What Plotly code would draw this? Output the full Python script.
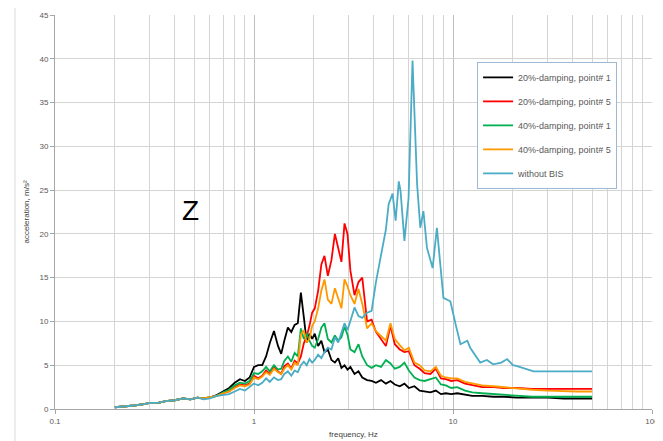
import plotly.graph_objects as go

# ---------------- data ----------------
f_black = [0.2,0.22,0.25,0.28,0.3,0.33,0.36,0.4,0.44,0.48,0.52,0.56,0.6,0.65,0.7,0.75,0.8,0.85,0.9,0.95,1.0,1.05,1.1,1.15,1.2,1.26,1.32,1.37,1.42,1.48,1.54,1.6,1.66,1.72,1.78,1.84,1.9,1.96,2.02,2.1,2.18,2.26,2.35,2.45,2.55,2.65,2.75,2.85,2.95,3.05,3.2,3.35,3.5,3.7,3.9,4.1,4.35,4.6,4.85,5.1,5.4,5.7,6.0,6.4,6.8,7.2,7.7,8.2,8.7,9.2,9.8,10.5,11.5,12.5,14,16,18,21,25,30,36,42,50]
black_20_p1 = [0.2,0.25,0.4,0.55,0.7,0.7,0.9,1.0,1.2,1.1,1.3,1.2,1.3,1.6,2.0,2.4,3.0,3.4,3.2,3.6,4.8,5.0,5.0,6.0,7.5,8.9,7.2,6.3,7.8,9.3,8.8,9.6,9.8,13.3,10.5,7.6,8.6,8.0,8.6,7.2,7.8,6.5,6.8,5.6,5.3,5.8,4.7,5.0,4.5,4.8,4.0,4.3,3.6,3.3,3.2,3.0,3.3,2.9,3.2,2.8,2.6,2.9,2.4,2.6,2.1,2.0,1.9,2.1,1.7,1.8,1.7,1.8,1.6,1.5,1.5,1.4,1.4,1.3,1.3,1.3,1.2,1.2,1.2]

f_common = f_black
red_20_p5 = [0.2,0.25,0.4,0.55,0.7,0.7,0.9,1.0,1.2,1.1,1.3,1.2,1.3,1.5,1.8,2.0,2.5,2.8,2.7,2.9,3.8,3.5,3.8,4.4,4.0,4.8,4.3,4.0,4.9,5.2,4.6,5.5,5.2,6.0,7.5,8.3,9.5,11.0,11.5,13.5,16.5,17.5,15.2,17.0,20.0,18.5,16.8,21.2,20.0,15.8,13.0,14.5,15.0,10.0,10.2,8.8,8.0,7.2,9.5,7.4,6.8,6.5,6.6,5.0,4.6,4.1,4.0,4.6,3.5,3.4,3.2,3.3,2.9,2.7,2.5,2.5,2.4,2.4,2.3,2.3,2.3,2.3,2.3]
green_40_p1 = [0.2,0.25,0.4,0.55,0.7,0.7,0.9,1.0,1.2,1.1,1.3,1.2,1.3,1.5,1.9,2.2,2.7,3.0,2.9,3.2,4.1,4.0,4.3,4.8,4.3,5.0,4.5,4.6,5.5,6.0,5.4,6.4,6.0,9.2,8.0,8.6,7.8,7.2,7.0,8.0,9.3,9.8,8.0,7.6,8.4,7.8,8.2,9.4,8.5,6.8,6.5,7.4,6.0,5.0,4.7,5.0,4.8,5.6,5.2,4.6,4.8,5.3,4.4,3.6,3.3,3.2,3.4,3.6,2.8,2.7,2.4,2.5,2.1,1.9,1.8,1.7,1.6,1.5,1.4,1.4,1.4,1.4,1.4]
orange_40_p5 = [0.2,0.25,0.4,0.55,0.7,0.7,0.9,1.0,1.2,1.1,1.3,1.2,1.3,1.5,1.8,2.0,2.4,2.7,2.6,2.8,3.6,3.4,3.7,4.2,3.9,4.6,4.2,4.0,4.6,5.0,4.5,5.3,5.0,8.5,9.0,7.6,8.0,9.5,10.0,11.5,13.5,14.8,12.5,12.0,13.8,12.5,11.5,14.8,14.0,13.0,12.0,13.7,12.0,9.2,9.8,8.9,8.3,7.8,9.8,8.0,7.3,6.7,7.0,5.3,5.0,4.4,4.3,4.8,3.8,3.6,3.5,3.5,3.1,2.9,2.7,2.6,2.5,2.3,2.2,2.1,2.0,2.0,2.0]

f_cyan = [0.2,0.22,0.25,0.28,0.3,0.33,0.36,0.4,0.44,0.48,0.52,0.56,0.6,0.65,0.7,0.75,0.8,0.85,0.9,0.95,1.0,1.05,1.1,1.15,1.2,1.26,1.32,1.37,1.42,1.48,1.54,1.6,1.66,1.72,1.78,1.84,1.9,1.96,2.02,2.1,2.18,2.26,2.35,2.45,2.55,2.65,2.75,2.85,2.95,3.05,3.2,3.35,3.5,3.7,3.9,4.1,4.35,4.6,4.75,4.97,5.15,5.34,5.45,5.7,5.98,6.26,6.6,6.85,7.1,7.4,7.9,8.3,8.95,9.7,10.3,10.9,11.8,12.2,13.7,14.8,15.9,17.5,18.7,20,21,23,25.4,30,36,42,50]
cyan_without = [0.2,0.25,0.4,0.55,0.7,0.7,0.9,1.0,1.2,1.1,1.3,1.1,1.2,1.5,1.6,1.7,2.0,2.3,2.1,2.5,2.9,2.7,3.0,3.5,3.1,3.6,3.3,3.4,4.0,4.3,3.8,4.4,4.2,5.0,5.4,5.0,5.7,5.3,5.6,6.2,5.8,6.5,7.0,6.8,8.2,7.6,8.8,9.8,9.0,10.2,11.6,10.6,10.4,11.0,11.2,14.5,17.5,20.5,23.4,24.6,21.5,26.0,24.9,19.2,24.1,39.8,25.7,20.7,22.6,18.4,16.1,20.7,12.7,12.3,9.7,7.4,7.8,7.0,5.3,5.6,5.1,5.3,5.7,5.0,4.9,4.6,4.3,4.3,4.3,4.3,4.3]

series_names = ["20%-damping, point# 1", "20%-damping, point# 5",
                "40%-damping, point# 1", "40%-damping, point# 5", "without BIS"]
series_x = [f_black, f_common, f_common, f_common, f_cyan]
series_y = [black_20_p1, red_20_p5, green_40_p1, orange_40_p5, cyan_without]
series_colors = ["#000000", "#ff0000", "#00b050", "#ff9900", "#4bacc6"]

y_ticks = [0, 5, 10, 15, 20, 25, 30, 35, 40, 45]
x_tickvals = [0.1, 1, 10, 100]
x_ticktext = ["0.1", "1", "10", "100"]

# ---------------- figure ----------------
fig = go.Figure()
for i, (name, xs, ys, col) in enumerate(zip(series_names, series_x, series_y, series_colors)):
    fig.add_trace(go.Scatter(x=xs, y=ys, mode="lines", name=name,
                             legendgroup=str(i),
                             line=dict(color=col, width=1.8)))

grid_col = "#d4d4d4"
fig.update_layout(
    width=655, height=433,
    margin=dict(l=47, r=11, t=7, b=32, autoexpand=False),
    paper_bgcolor="white", plot_bgcolor="white",
    font=dict(family="Liberation Sans, Arial, sans-serif", size=8, color="#595959"),
    showlegend=True,
    legend=dict(x=0.707, y=0.881, xanchor="left", yanchor="top",
                bgcolor="white", bordercolor="#9fb8d6", borderwidth=1,
                font=dict(size=9, color="#595959"),
                tracegroupgap=5, itemwidth=30),
    xaxis=dict(type="log", range=[-1, 2], tickvals=x_tickvals, ticktext=x_ticktext,
               automargin=False,
               showgrid=True, gridcolor="#bfbfbf", gridwidth=1,
               minor=dict(dtick="D1", showgrid=True, gridcolor=grid_col, ticks=""),
               showline=True, linecolor="#a6a6a6", linewidth=1,
               ticks="outside", ticklen=4, tickcolor="#a6a6a6",
               zeroline=False,
               title=dict(text="frequency, Hz", font=dict(size=8, color="#404040"), standoff=6)),
    yaxis=dict(range=[0, 45], tickvals=y_ticks, automargin=False,
               showgrid=True, gridcolor=grid_col, gridwidth=1,
               showline=True, linecolor="#a6a6a6", linewidth=1,
               ticks="outside", ticklen=4, tickcolor="#a6a6a6",
               zeroline=False,
               title=dict(text="acceleration, m/s²", font=dict(size=8, color="#404040"), standoff=8)),
)

# outer chart-area border
fig.add_shape(type="rect", xref="paper", yref="paper",
              x0=-0.067, y0=-0.2, x1=1.1, y1=1.0254,
              line=dict(color="#d9d9d9", width=1), layer="below")

fig.add_annotation(text="Z", xref="paper", yref="paper", x=0.209, y=0.505,
                   showarrow=False, font=dict(size=28, color="black",
                                              family="Liberation Sans, Arial, sans-serif"))

fig.write_html("out.html")
